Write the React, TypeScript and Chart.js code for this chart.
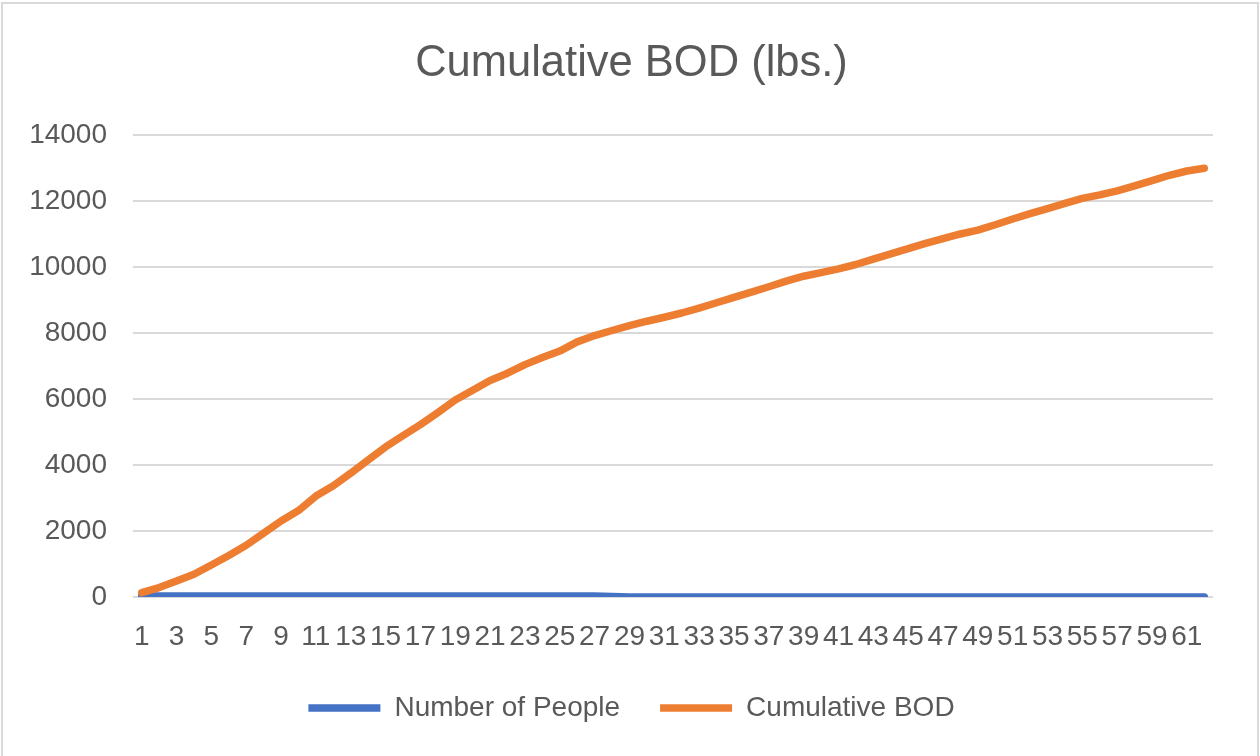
import React, { useEffect, useRef } from "react";
import { Chart, registerables } from "chart.js";

Chart.register(...registerables);

const categories: string[] = [
  "1","2","3","4","5","6","7","8","9","10","11","12","13","14","15","16","17","18","19","20",
  "21","22","23","24","25","26","27","28","29","30","31","32","33","34","35","36","37","38","39","40",
  "41","42","43","44","45","46","47","48","49","50","51","52","53","54","55","56","57","58","59","60",
  "61","62",
];

const numberOfPeople: number[] = [
  30, 30, 30, 30, 30, 30, 30, 30, 30, 30, 30, 30, 30, 30, 30, 30, 30, 30, 30, 30,
  30, 30, 30, 30, 30, 30, 30, 15, 0, 0, 0, 0, 0, 0, 0, 0, 0, 0, 0, 0,
  0, 0, 0, 0, 0, 0, 0, 0, 0, 0, 0, 0, 0, 0, 0, 0, 0, 0, 0, 0,
  0, 0,
];

const cumulativeBOD: number[] = [
  130, 285, 485, 690, 970, 1260, 1570, 1935, 2305, 2620,
  3060, 3375, 3755, 4155, 4550, 4895, 5225, 5590, 5970, 6270,
  6565, 6785, 7045, 7260, 7455, 7735, 7925, 8080, 8225, 8360,
  8480, 8610, 8760, 8920, 9085, 9245, 9405, 9575, 9725, 9835,
  9950, 10080, 10245, 10400, 10560, 10720, 10865, 11005, 11120, 11285,
  11460, 11620, 11775, 11935, 12085, 12190, 12310, 12465, 12625, 12785,
  12915, 13000,
];

const yTicks = { min: 0, max: 14000, step: 2000 };
const titleText = "Cumulative BOD (lbs.)";
const seriesNames = ["Number of People", "Cumulative BOD"];

const FONT = "'Liberation Sans', Arial, sans-serif";
const TEXT = "#595959";
const GRID = "#d9d9d9";

export default function App() {
  const ref = useRef<HTMLCanvasElement | null>(null);

  useEffect(() => {
    if (!ref.current) return;
    const chart = new Chart(ref.current, {
      type: "line",
      data: {
        labels: categories,
        datasets: [
          {
            label: seriesNames[0],
            data: numberOfPeople,
            borderColor: "#4472C4",
            backgroundColor: "#4472C4",
            borderWidth: 7.5,
            borderCapStyle: "round",
            borderJoinStyle: "round",
            pointRadius: 0,
            tension: 0,
            order: 1,
            yAxisID: "y",
          },
          {
            label: seriesNames[1],
            data: cumulativeBOD,
            borderColor: "#ED7D31",
            backgroundColor: "#ED7D31",
            borderWidth: 7.5,
            borderCapStyle: "round",
            borderJoinStyle: "round",
            pointRadius: 0,
            tension: 0,
            order: 0,
            yAxisID: "y",
          },
        ],
      },
      options: {
        responsive: false,
        animation: false,
        layout: { padding: { left: 29, right: 26, top: 0, bottom: 24 } },
        plugins: {
          tooltip: { enabled: false },
          title: {
            display: true,
            text: titleText,
            color: TEXT,
            font: { family: FONT, size: 43.5, weight: "normal" },
            padding: { top: 38, bottom: 45 },
          },
          legend: {
            position: "bottom",
            labels: {
              color: TEXT,
              font: { family: FONT, size: 28 },
              usePointStyle: true,
              pointStyle: "line",
              pointStyleWidth: 72,
              boxHeight: 28,
              padding: 40,
              sort: (a: any, b: any) => a.datasetIndex - b.datasetIndex,
            },
          },
        },
        scales: {
          x: {
            type: "category",
            offset: true,
            grid: { display: false, drawTicks: false },
            border: { display: false },
            afterFit: (scale: any) => {
              scale.height = 57;
            },
            ticks: {
              autoSkip: false,
              maxRotation: 0,
              minRotation: 0,
              padding: 23,
              color: TEXT,
              font: { family: FONT, size: 28 },
              callback: (_v: any, i: number) => (i % 2 === 0 ? categories[i] : ""),
            },
          },
          y: {
            position: "left",
            min: yTicks.min,
            max: yTicks.max,
            grid: { color: GRID, lineWidth: 2, drawTicks: false },
            border: { display: false },
            afterFit: (scale: any) => {
              scale.width = 104;
            },
            ticks: {
              stepSize: yTicks.step,
              padding: 26,
              color: TEXT,
              font: { family: FONT, size: 28 },
              callback: (v: any) => String(v),
            },
          },
          yRight: {
            type: "linear",
            position: "right",
            display: true,
            grid: { display: false, drawTicks: false },
            border: { display: false },
            ticks: { display: false },
            afterFit: (scale: any) => {
              scale.width = 21;
            },
          },
        },
      },
    });
    return () => chart.destroy();
  }, []);

  return (
    <div
      style={{
        position: "fixed",
        left: 0,
        top: 0,
        width: 1260,
        height: 756,
        overflow: "hidden",
        background: "#ffffff",
      }}
    >
      <div
        style={{
          position: "absolute",
          left: 1,
          top: 2,
          width: 1254,
          height: 800,
          border: "2px solid #d9d9d9",
        }}
      />
      <canvas
        ref={ref}
        width={1260}
        height={756}
        style={{ position: "absolute", left: 0, top: 0, display: "block" }}
      />
    </div>
  );
}
